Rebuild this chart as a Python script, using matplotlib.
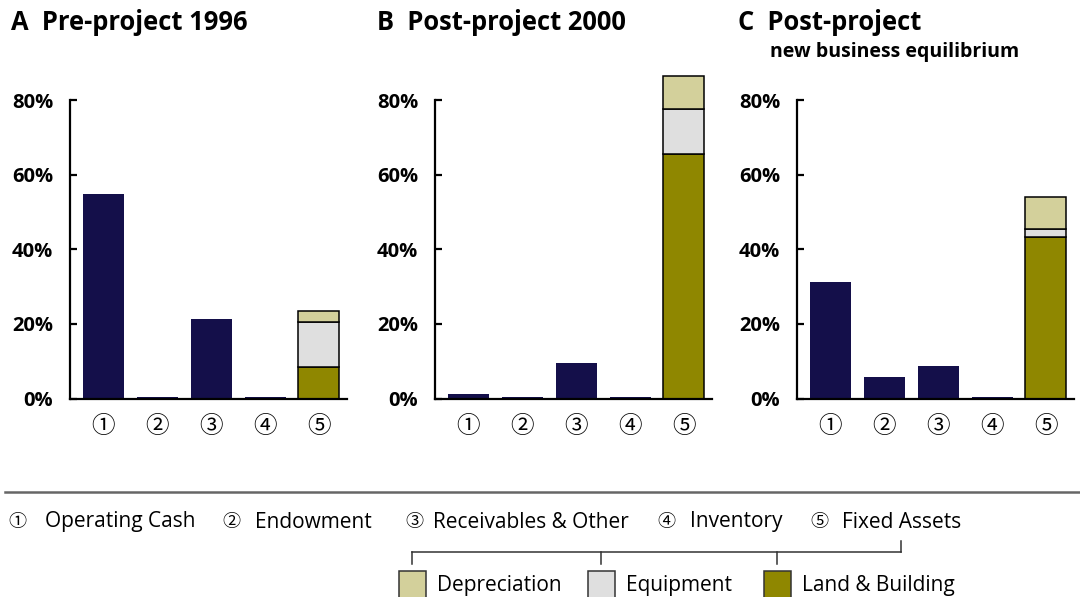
import matplotlib
matplotlib.use("Agg")
import matplotlib.pyplot as plt
from matplotlib.lines import Line2D
from matplotlib.patches import Rectangle

plt.rcParams['font.family'] = ['Open Sans', 'Noto Sans CJK JP', 'DejaVu Sans']

# data (% of total assets)
categories = ['①', '②', '③', '④', '⑤']
legend_names = ['Operating Cash', 'Endowment', 'Receivables & Other', 'Inventory', 'Fixed Assets']
titles = ['A  Pre-project 1996', 'B  Post-project 2000', 'C  Post-project']
subtitle_c = 'new business equilibrium'

# categories 1-4 per panel
pre_1996 = [54.8, 0.3, 21.4, 0.3]
post_2000 = [1.2, 0.3, 9.6, 0.3]
post_equil = [31.2, 5.7, 8.7, 0.3]
# fixed assets split, panels A, B, C
land_building = [8.5, 65.6, 43.4]
equipment = [12.1, 12.0, 2.0]
depreciation = [2.9, 8.7, 8.7]
fixed_parts = ['Depreciation', 'Equipment', 'Land & Building']

navy = '#140f4a'
olive = '#8f8700'
grey = '#dfdfdf'
khaki = '#d3d09b'

W, H = 1080, 597
fig = plt.figure(figsize=(W / 100, H / 100), dpi=100)

lefts = [70, 435, 797]
bw = 0.76
panels = [pre_1996, post_2000, post_equil]

for i, vals in enumerate(panels):
    ax = fig.add_axes([lefts[i] / W, 1 - 398.5 / H, 277 / W, 298.5 / H])
    x = list(range(4))
    ax.bar(x, vals, width=bw, color=navy, clip_on=False)
    ax.bar(4, land_building[i], width=bw, color=olive, edgecolor='black', linewidth=1.1, clip_on=False)
    ax.bar(4, equipment[i], width=bw, bottom=land_building[i], color=grey,
           edgecolor='black', linewidth=1.1, clip_on=False)
    ax.bar(4, depreciation[i], width=bw, bottom=land_building[i] + equipment[i], color=khaki,
           edgecolor='black', linewidth=1.1, clip_on=False)
    ax.set_xlim(-0.62, 4.52)
    ax.set_ylim(0, 80)
    ax.set_yticks([0, 20, 40, 60, 80])
    ax.set_yticklabels(['0%', '20%', '40%', '60%', '80%'], fontsize=14.5, fontweight='bold')
    ax.set_xticks(range(5))
    ax.set_xticklabels(categories, fontsize=17)
    ax.tick_params(axis='x', length=0, pad=12)
    ax.tick_params(axis='y', direction='in', length=5, width=1.6, pad=12)
    for s in ['top', 'right']:
        ax.spines[s].set_visible(False)
    for s in ['left', 'bottom']:
        ax.spines[s].set_linewidth(1.6)

title_x = [11, 377, 738]
for i, t in enumerate(titles):
    fig.text(title_x[i] / W, 1 - 22 / H, t, fontsize=18.4, fontweight='bold', va='center', ha='left')
fig.text(770 / W, 1 - 52 / H, subtitle_c, fontsize=14, fontweight='bold', va='center', ha='left')

# legend area in pixel coordinates
lg = fig.add_axes([0, 0, 1, 1])
lg.set_xlim(0, W)
lg.set_ylim(H, 0)
lg.axis('off')
lg.add_line(Line2D([5, W], [492, 492], color='#666666', lw=1.8))

circ_x = [17, 231, 414, 666, 819]
text_x = [45, 255, 433, 690, 842]
for cx, tx, num, name in zip(circ_x, text_x, categories, legend_names):
    lg.text(cx, 522, num, fontsize=13, va='center', ha='center')
    lg.text(tx, 522, name, fontsize=15, va='center', ha='left')

# bracket from Fixed Assets to its parts
bc = '#333333'
lg.add_line(Line2D([412, 901], [552, 552], color=bc, lw=1.1))
lg.add_line(Line2D([901, 901], [541, 552], color=bc, lw=1.1))
for bx in [412, 601, 777]:
    lg.add_line(Line2D([bx, bx], [552, 564], color=bc, lw=1.1))

part_x = [399, 588, 764]
part_colors = [khaki, grey, olive]
for px, name, c in zip(part_x, fixed_parts, part_colors):
    lg.add_patch(Rectangle((px, 571), 27, 27, facecolor=c, edgecolor='#333333', lw=1.1))
    lg.text(px + 38, 585, name, fontsize=15, va='center', ha='left')

fig.savefig('out.png', dpi=100)
